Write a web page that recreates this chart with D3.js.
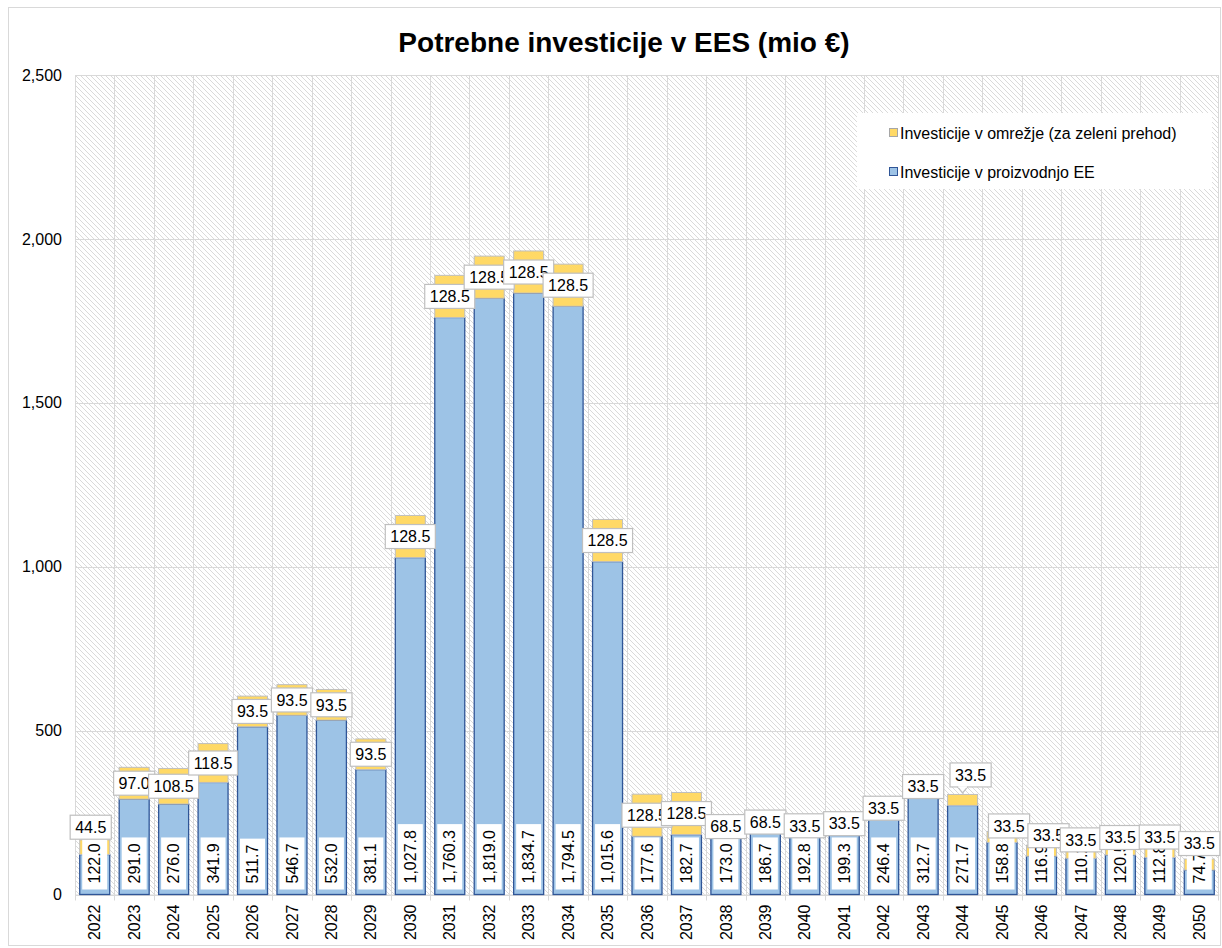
<!DOCTYPE html>
<html><head><meta charset="utf-8">
<script src="https://cdn.jsdelivr.net/npm/d3@7"></script>
<style>
body{margin:0;background:#fff}
text{font-family:"Liberation Sans",Arial,Helvetica,sans-serif;fill:#000}
</style>
</head><body>
<svg id="chart" width="1222" height="948"></svg>
<script>
// ---- data ----
const years = ["2022","2023","2024","2025","2026","2027","2028","2029","2030","2031","2032","2033","2034","2035","2036","2037","2038","2039","2040","2041","2042","2043","2044","2045","2046","2047","2048","2049","2050"];
const production = [122.0,291.0,276.0,341.9,511.7,546.7,532.0,381.1,1027.8,1760.3,1819.0,1834.7,1794.5,1015.6,177.6,182.7,173.0,186.7,192.8,199.3,246.4,312.7,271.7,158.8,116.9,110.2,120.5,112.8,74.7];
const grid = [44.5,97.0,108.5,118.5,93.5,93.5,93.5,93.5,128.5,128.5,128.5,128.5,128.5,128.5,128.5,128.5,68.5,68.5,33.5,33.5,33.5,33.5,33.5,33.5,33.5,33.5,33.5,33.5,33.5];
const seriesNames = ["Investicije v omrežje (za zeleni prehod)","Investicije v proizvodnjo EE"];
const yTicks = [0,500,1000,1500,2000,2500];
const title = "Potrebne investicije v EES (mio €)";

// ---- drawing ----
const svg = d3.select("#chart");
const W = 1222, H = 948;
const plot = {left:75, right:1219, top:75, bottom:894.5};
const fmt = d3.format(",.1f");

const x = d3.scaleBand().domain(years).range([plot.left, plot.right]).padding(0);
const y = d3.scaleLinear().domain([0,2500]).range([plot.bottom, plot.top]);
const barW = x.bandwidth()*0.76;

// background & outer border
svg.append("rect").attr("width",W).attr("height",H).attr("fill","#fff");
svg.append("rect").attr("x",8.5).attr("y",7.5).attr("width",1212).attr("height",938)
  .attr("fill","none").attr("stroke","#d9d9d9").attr("stroke-width",1);

// hatch pattern
const defs = svg.append("defs");
const pat = defs.append("pattern").attr("id","hatch").attr("patternUnits","userSpaceOnUse")
  .attr("width",5).attr("height",5);
pat.append("rect").attr("width",5).attr("height",5).attr("fill","#fff");
pat.append("path").attr("d","M0,0 L5,5 M-1,4 L1,6 M4,-1 L6,1")
  .attr("stroke","#dadada").attr("stroke-width",1);

svg.append("rect").attr("x",plot.left).attr("y",plot.top)
  .attr("width",plot.right-plot.left).attr("height",plot.bottom-plot.top)
  .attr("fill","url(#hatch)");

// gridlines
const gridG = svg.append("g");
yTicks.forEach(t=>{
  gridG.append("line").attr("x1",plot.left).attr("x2",plot.right)
    .attr("y1",Math.round(y(t))+0.5).attr("y2",Math.round(y(t))+0.5)
    .attr("stroke","#d9d9d9").attr("stroke-width",1);
});
years.forEach((yr,i)=>{
  const xx = Math.round(x(yr))+0.5;
  gridG.append("line").attr("x1",xx).attr("x2",xx).attr("y1",plot.top).attr("y2",plot.bottom+6)
    .attr("stroke","#d9d9d9").attr("stroke-width",1);
});
gridG.append("line").attr("x1",plot.right-0.5).attr("x2",plot.right-0.5).attr("y1",plot.top).attr("y2",plot.bottom+6)
  .attr("stroke","#d9d9d9");

// y axis labels
const yAxis = d3.axisLeft(y).tickValues(yTicks).tickFormat(d3.format(",")).tickSize(0).tickPadding(13);
const yg = svg.append("g").attr("transform",`translate(${plot.left},0)`).call(yAxis);
yg.select(".domain").remove();
yg.selectAll("text").style("font-size","16px").style("font-family",'"Liberation Sans",Arial,sans-serif').attr("fill","#000");

// x axis
const xAxis = d3.axisBottom(x).tickSize(0).tickPadding(0);
const xg = svg.append("g").attr("transform",`translate(0,${plot.bottom})`).call(xAxis);
xg.select(".domain").attr("stroke","#d9d9d9");
xg.selectAll("text").style("font-size","16px").style("font-family",'"Liberation Sans",Arial,sans-serif')
  .attr("fill","#000").attr("transform","rotate(-90)").attr("text-anchor","end")
  .attr("x",-10).attr("y",0).attr("dy","0.35em");

// bars
const barsG = svg.append("g");
years.forEach((yr,i)=>{
  const cx = x(yr)+x.bandwidth()/2;
  const p = production[i], g = grid[i];
  barsG.append("rect").attr("x",cx-barW/2).attr("y",y(p)).attr("width",barW).attr("height",y(0)-y(p))
    .attr("fill","#9dc3e6").attr("stroke","#2f5597").attr("stroke-width",1.3);
  barsG.append("rect").attr("x",cx-barW/2).attr("y",y(p+g)).attr("width",barW).attr("height",y(p)-y(p+g))
    .attr("fill","#ffd966").attr("stroke","#bfbfbf").attr("stroke-width",1);
});

// production labels (inside base, rotated)
const pl = svg.append("g");
years.forEach((yr,i)=>{
  const cx = x(yr)+x.bandwidth()/2;
  const g = pl.append("g");
  const r = g.append("rect").attr("fill","#fff");
  const t = g.append("text").text(fmt(production[i])).style("font-size","16px")
    .attr("text-anchor","middle").attr("dy","0.35em");
  const len = t.node().getComputedTextLength();
  const boxH = len+12, boxW = 25;
  const bottom = plot.bottom-5;
  const cy = bottom-boxH/2;
  r.attr("x",cx-boxW/2).attr("y",bottom-boxH).attr("width",boxW).attr("height",boxH);
  t.attr("transform",`translate(${cx},${cy}) rotate(-90)`);
});

// grid labels (callouts), centred in segment with manual nudges
const nudge = {"2022":[-4,-20],"2044":[8,-25],"2045":[7,-11],"2046":[7,-15],"2047":[0,-13],"2048":[0,-12],"2049":[0,-15],"2050":[0,-21]};
const gl = svg.append("g");
years.forEach((yr,i)=>{
  const bx = x(yr)+x.bandwidth()/2;
  const n = nudge[yr]||[0,0];
  const cx = bx+n[0];
  const cy = y(production[i]+grid[i]/2)+n[1];
  const g = gl.append("g");
  const r = g.append("rect").attr("fill","#fff").attr("stroke","#bfbfbf").attr("stroke-width",1.2);
  const t = g.append("text").text(fmt(grid[i])).style("font-size","16px")
    .attr("text-anchor","middle").attr("x",cx).attr("y",cy).attr("dy","0.36em");
  const len = t.node().getComputedTextLength();
  const bw = len+10, bh = 24;
  r.attr("x",cx-bw/2).attr("y",cy-bh/2).attr("width",bw).attr("height",bh);
  if(yr==="2044"){
    const by = cy+bh/2;
    g.insert("path","text").attr("d",`M${bx-5},${by} L${bx},${by+6} L${bx+5},${by}`)
      .attr("fill","#fff").attr("stroke","#bfbfbf").attr("stroke-width",1.2);
    g.append("line").attr("x1",bx-4.4).attr("x2",bx+4.4).attr("y1",by).attr("y2",by).attr("stroke","#fff").attr("stroke-width",1.5);
  }
});

// legend
const lg = svg.append("g");
lg.append("rect").attr("x",857).attr("y",113).attr("width",355).attr("height",76).attr("fill","#fff");
const legendItems = [
  {name:seriesNames[0], fill:"#ffd966", stroke:"#a6a6a6", y:133},
  {name:seriesNames[1], fill:"#9dc3e6", stroke:"#2f5597", y:172}
];
legendItems.forEach(d=>{
  lg.append("rect").attr("x",889.5).attr("y",d.y-4.5).attr("width",8).attr("height",8)
    .attr("fill",d.fill).attr("stroke",d.stroke).attr("stroke-width",1);
  lg.append("text").attr("x",900).attr("y",d.y).attr("dy","0.35em").style("font-size","16px").text(d.name);
});

// title
svg.append("text").attr("x",624).attr("y",42).attr("dy","0.35em").attr("text-anchor","middle")
  .style("font-size","28px").style("font-weight","bold").text(title);
</script>
</body></html>
